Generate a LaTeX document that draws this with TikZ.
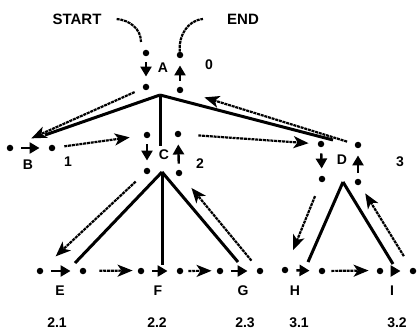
\documentclass[tikz,border=0pt]{standalone}
\usepackage{fontspec}
\setmainfont{Liberation Sans}
\usetikzlibrary{arrows.meta}

\begin{document}
\begin{tikzpicture}[x=1pt, y=-1pt,
    lbl/.style={font=\fontsize{14}{14}\selectfont\bfseries, inner sep=0pt},
    edge/.style={line width=3pt},
    walk/.style={line width=2.2pt, dash pattern=on 3pt off 0.8pt, -{Stealth[length=15pt,width=12pt,inset=4pt]}},
    visit/.style={line width=2.4pt, -{Triangle[length=10pt,width=11pt]}},
    blob/.style={circle, fill, inner sep=0pt, minimum size=6.5pt}]
    \useasboundingbox (0,0) rectangle (417,331);

    % letters and numbers
    \node[lbl, font=\fontsize{15}{15}\selectfont\bfseries] (start) at (77,19) {START};
    \node[lbl, font=\fontsize{15}{15}\selectfont\bfseries] (end) at (243,19) {END};
    \node[lbl] (A) at (163,68) {A};
    \node[lbl] (B) at (28,165) {B};
    \node[lbl] (C) at (164,155) {C};
    \node[lbl] (D) at (342,160) {D};
    \node[lbl] (E) at (60,291) {E};
    \node[lbl] (F) at (158,291) {F};
    \node[lbl] (G) at (243,291) {G};
    \node[lbl] (H) at (295,291) {H};
    \node[lbl] (I) at (392,291) {I};
    \node[lbl] (n0) at (209,65) {0};
    \node[lbl] (n1) at (68,162) {1};
    \node[lbl] (n2) at (200,164) {2};
    \node[lbl] (n3) at (400,162) {3};
    \node[lbl] (n21) at (57,323) {2.1};
    \node[lbl] (n22) at (157,323) {2.2};
    \node[lbl] (n23) at (245,323) {2.3};
    \node[lbl] (n31) at (299,323) {3.1};
    \node[lbl] (n32) at (397,323) {3.2};

    % tree branches
    \coordinate (Atip) at (160,95);
    \coordinate (Cin) at (160,146);
    \coordinate (Ctip) at (162,172);
    \coordinate (Dtip) at (343,182);
    \draw[edge] (Atip) -- (45,135) coordinate (Bin);
    \draw[edge] (Atip) -- (Cin);
    \draw[edge] (Atip) -- (333,140) coordinate (Din);
    \draw[edge] (Ctip) -- (75,263) coordinate (Ein);
    \draw[edge] (Ctip) -- (162,265) coordinate (Fin);
    \draw[edge] (Ctip) -- (238,262) coordinate (Gin);
    \draw[edge] (Dtip) -- (308,262) coordinate (Hin);
    \draw[edge] (Dtip) -- (393,264) coordinate (Iin);

    % dots round each letter
    \foreach \n/\x/\y in {Aa/146/53, Ab/146/87, Ac/180/55, Ad/180/90,
                          Ca/147/135, Cb/147/171, Cc/178/134, Cd/179/173,
                          Da/321/144, Db/322/179, Dc/358/145, Dd/358/182,
                          Bl/10/148, Br/52/148, El/40/271, Er/83/271,
                          Fl/141/271, Fr/180/271, Gl/220/271, Gr/260/271,
                          Hl/285/270, Hr/322/271, Il/380/271, Ir/413/271} {
        \node[blob] (\n) at (\x,\y) {};
    }

    % visit marks
    \foreach \p in {A,C,D} {
        \draw[visit, shorten <=6pt, shorten >=7pt] (\p a) -- (\p b);
        \draw[visit, shorten <=6pt, shorten >=7pt] (\p d) -- (\p c);
    }
    \foreach \p in {B,E,F,G,H,I} {
        \draw[visit, shorten <=8pt, shorten >=9pt] (\p l) -- (\p r);
    }

    % the walk
    \draw[line width=2.2pt, dash pattern=on 3pt off 0.8pt] ([xshift=15pt]start.east) to[out=-5,in=90] ([xshift=-5pt,yshift=11pt]Aa);
    \draw[line width=2.2pt, dash pattern=on 3pt off 0.8pt] ([xshift=-2pt,yshift=10pt]Ac) to[out=95,in=185] ([xshift=-24pt]end.west);
    \draw[walk, shorten <=9pt, shorten >=20pt] ([yshift=3pt]Ab) -- ([yshift=6pt]Bl);
    \draw[walk, shorten <=9pt, shorten >=14pt] (Br) -- (Ca);
    \draw[walk, shorten <=17pt, shorten >=9pt] ([yshift=-4pt]Cc) -- (Da);
    \draw[walk, shorten <=8pt, shorten >=22pt] ([yshift=9pt]Dc) -- ([yshift=3pt]Ad);
    \draw[walk, shorten <=12pt, shorten >=18pt] (Cb) -- (El);
    \draw[walk, shorten <=13pt, shorten >=5pt] ([yshift=9pt]Er) -- ([yshift=9pt]Fl);
    \draw[walk, shorten <=5pt, shorten >=5pt] ([yshift=3pt]Fr) -- ([yshift=7pt]Gl);
    \draw[walk, shorten <=10pt, shorten >=16pt] ([yshift=5pt]Gr) -- (Cd);
    \draw[walk, shorten <=15pt, shorten >=18pt] (Db) -- (Hl);
    \draw[walk, shorten <=6pt, shorten >=8pt] ([yshift=9pt]Hr) -- ([yshift=9pt]Il);
    \draw[walk, shorten <=14pt, shorten >=10pt] ([yshift=10pt]Ir) -- ([xshift=6pt]Dd);
\end{tikzpicture}
\end{document}
